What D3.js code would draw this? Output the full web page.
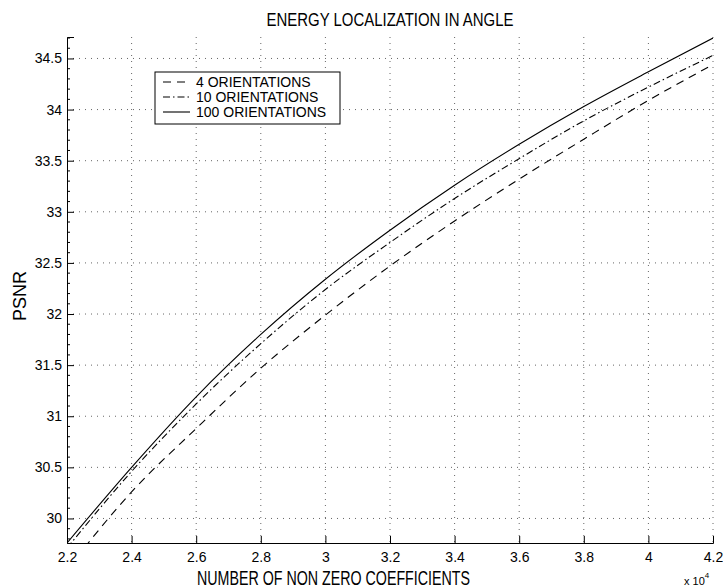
<!DOCTYPE html>
<meta charset="utf-8">
<style>
    body { margin: 0; background: #fff; }
    text { font-family: "Liberation Sans", Arial, sans-serif; fill: #000; }
    .grid line { stroke: #666; stroke-width: 1; stroke-dasharray: 1,5; }
    .curve { fill: none; stroke: #000; stroke-width: 1.1; }
</style>
<svg width="723" height="588"></svg>
<script src="https://d3js.org/d3.v7.min.js"></script>
<script>
    // values (x in units of 10^4 coefficients)
    var xValues = [2.2, 2.4, 2.6, 2.8, 3.0, 3.2, 3.4, 3.6, 3.8, 4.0, 4.2];
    var psnr4 = [29.50, 30.26, 30.88, 31.47, 31.99, 32.47, 32.91, 33.32, 33.71, 34.09, 34.44];
    var psnr10 = [29.71, 30.46, 31.12, 31.71, 32.24, 32.70, 33.13, 33.52, 33.89, 34.22, 34.53];
    var psnr100 = [29.76, 30.50, 31.19, 31.80, 32.34, 32.82, 33.26, 33.66, 34.03, 34.37, 34.70];
    var seriesNames = ["4 ORIENTATIONS", "10 ORIENTATIONS", "100 ORIENTATIONS"];
    var xTicks = [2.2, 2.4, 2.6, 2.8, 3, 3.2, 3.4, 3.6, 3.8, 4, 4.2];
    var yTicks = [30, 30.5, 31, 31.5, 32, 32.5, 33, 33.5, 34, 34.5];

    var svg = d3.select("svg"),
        margin = {top: 37, right: 10, bottom: 45, left: 67},
        width = +svg.attr("width") - margin.left - margin.right,
        height = +svg.attr("height") - margin.top - margin.bottom,
        g = svg.append("g").attr("transform", "translate(" + margin.left + "," + margin.top + ")");

    var x = d3.scaleLinear().domain([2.2, 4.2]).range([0, width]);
    var y = d3.scaleLinear().domain([29.76, 34.71]).range([height, 0]);

    var dashes = ["8,6", "7,3,1.5,3", null];
    var series = [psnr4, psnr10, psnr100];

    g.append("clipPath").attr("id", "clip")
        .append("rect").attr("width", width).attr("height", height);

    // grid
    var grid = g.append("g").attr("class", "grid");
    grid.selectAll(".gx")
        .data(xTicks.slice(1))
        .enter().append("line")
        .attr("x1", x).attr("x2", x)
        .attr("y1", 0).attr("y2", height);
    grid.selectAll(".gy")
        .data(yTicks)
        .enter().append("line")
        .attr("y1", y).attr("y2", y)
        .attr("x1", 0).attr("x2", width);

    // curves
    var line = d3.line()
        .x(function (d, i) { return x(xValues[i]); })
        .y(function (d) { return y(d); })
        .curve(d3.curveMonotoneX);

    g.append("g").attr("clip-path", "url(#clip)")
        .selectAll("path")
        .data(series)
        .enter().append("path")
        .attr("class", "curve")
        .attr("stroke-dasharray", function (d, i) { return dashes[i]; })
        .attr("d", line);

    // axes (ticks inward)
    var xAxis = g.append("g")
        .attr("transform", "translate(0," + height + ")")
        .call(d3.axisBottom(x).tickValues(xTicks).tickSize(-7).tickPadding(9)
            .tickFormat(function (d) { return String(+d.toFixed(1)); }));
    var yAxis = g.append("g")
        .call(d3.axisLeft(y).tickValues(yTicks).tickSize(-7).tickPadding(5)
            .tickFormat(function (d) { return String(d); }));

    var minor = d3.range(29.8, 34.71, 0.1).filter(function (v) {
        return Math.abs(v * 2 - Math.round(v * 2)) > 0.01;
    });
    g.append("g").selectAll("line")
        .data(minor)
        .enter().append("line")
        .attr("x1", 0).attr("x2", 3)
        .attr("y1", y).attr("y2", y)
        .attr("stroke", "#000");

    [xAxis, yAxis].forEach(function (a) {
        a.select(".domain").attr("stroke", "#000");
        a.selectAll(".tick line").attr("stroke", "#000");
        a.selectAll("text").attr("font-size", 14).attr("font-family", null);
    });

    // labels
    svg.append("text")
        .attr("x", 390).attr("y", 26)
        .attr("text-anchor", "middle")
        .attr("font-size", 18)
        .attr("textLength", 247).attr("lengthAdjust", "spacingAndGlyphs")
        .text("ENERGY LOCALIZATION IN ANGLE");

    svg.append("text")
        .attr("x", 197).attr("y", 585)
        .attr("font-size", 21)
        .attr("textLength", 273).attr("lengthAdjust", "spacingAndGlyphs")
        .text("NUMBER OF NON ZERO COEFFICIENTS");

    svg.append("text")
        .attr("transform", "translate(26,296)rotate(-90)")
        .attr("text-anchor", "middle")
        .attr("font-size", 18)
        .text("PSNR");

    var expo = svg.append("text")
        .attr("x", 684).attr("y", 585)
        .attr("font-size", 11);
    expo.append("tspan").text("x 10");
    expo.append("tspan").attr("dy", -7).attr("font-size", 8).text("4");

    // legend
    var legend = svg.append("g");
    legend.append("rect")
        .attr("x", 155).attr("y", 72)
        .attr("width", 185).attr("height", 52)
        .attr("fill", "#fff").attr("stroke", "#000");
    var item = legend.selectAll(".item")
        .data(seriesNames)
        .enter().append("g")
        .attr("transform", function (d, i) { return "translate(0," + (82 + i * 15) + ")"; });
    item.append("line")
        .attr("x1", 163).attr("x2", 190)
        .attr("stroke", "#000").attr("stroke-width", 1.1)
        .attr("stroke-dasharray", function (d, i) { return dashes[i]; });
    item.append("text")
        .attr("x", 196).attr("dy", "0.35em")
        .attr("font-size", 14)
        .text(function (d) { return d; });
</script>
